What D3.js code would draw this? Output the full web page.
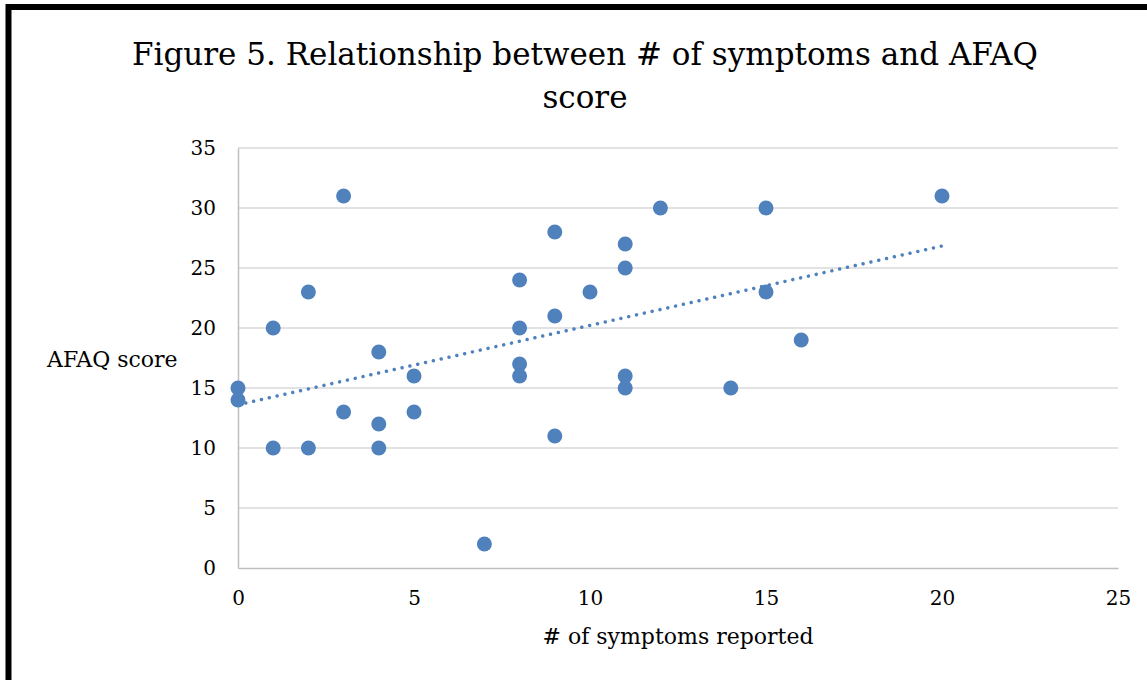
<!DOCTYPE html>
<html>
<head>
<meta charset="utf-8">
<script src="https://d3js.org/d3.v7.min.js"></script>
<style>
  body { margin: 0; background: #fff; }
  svg text { font-family: "DejaVu Serif", serif; fill: #000; }
</style>
</head>
<body>
<script>
// symptoms reported (x) and AFAQ score (y)
var symptoms = [0, 0, 1, 1, 2, 2, 3, 3, 4, 4, 4, 5, 5, 7, 8, 8, 8, 8, 9, 9, 9, 10, 11, 11, 11, 11, 12, 14, 15, 15, 16, 20];
var afaq     = [15, 14, 20, 10, 23, 10, 31, 13, 18, 12, 10, 16, 13, 2, 24, 20, 17, 16, 28, 21, 11, 23, 27, 25, 16, 15, 30, 15, 30, 23, 19, 31];

var xTicks = [0, 5, 10, 15, 20, 25];
var yTicks = [0, 5, 10, 15, 20, 25, 30, 35];

var titleLines = ["Figure 5. Relationship between # of symptoms and AFAQ", "score"];
var xTitle = "# of symptoms reported";
var yTitle = "AFAQ score";

var svgWidth = 1147;
var svgHeight = 680;

var margin = { top: 148, right: 29, bottom: 112, left: 238 };
var chartWidth = svgWidth - margin.left - margin.right;
var chartHeight = svgHeight - margin.top - margin.bottom;

var data = symptoms.map(function(s, i) { return { x: s, y: afaq[i] }; });

var svg = d3.select("body")
  .append("svg")
  .attr("width", svgWidth)
  .attr("height", svgHeight);

// thick frame on the top and left edges
svg.append("path")
  .attr("d", "M8.5,680 L8.5,7 L1147,7")
  .attr("fill", "none")
  .attr("stroke", "#000")
  .attr("stroke-width", 6);

var chartGroup = svg.append("g")
  .attr("transform", "translate(" + margin.left + ", " + margin.top + ")");

var xScale = d3.scaleLinear().domain([0, 25]).range([0, chartWidth]);
var yScale = d3.scaleLinear().domain([0, 35]).range([chartHeight, 0]);

// horizontal gridlines
chartGroup.append("g")
  .selectAll("line")
  .data(yTicks.filter(function(d) { return d > 0; }))
  .enter()
  .append("line")
  .attr("x1", 0)
  .attr("x2", chartWidth)
  .attr("y1", function(d) { return yScale(d); })
  .attr("y2", function(d) { return yScale(d); })
  .attr("stroke", "#d9d9d9")
  .attr("stroke-width", 1.5);

// axes
var leftAxis = d3.axisLeft(yScale).tickValues(yTicks).tickSize(0).tickPadding(22);
var bottomAxis = d3.axisBottom(xScale).tickValues(xTicks).tickSize(0).tickPadding(23);

var yAxisG = chartGroup.append("g").call(leftAxis);
yAxisG.select(".domain").attr("stroke", "#bfbfbf").attr("stroke-width", 1.5);
yAxisG.selectAll("text").style("font-size", "20px").style("font-family", "DejaVu Serif");

var xAxisG = chartGroup.append("g")
  .attr("transform", "translate(0, " + chartHeight + ")")
  .call(bottomAxis);
xAxisG.select(".domain").attr("stroke", "#bfbfbf").attr("stroke-width", 1.5);
xAxisG.selectAll("text").style("font-size", "20px").style("font-family", "DejaVu Serif");

// points
chartGroup.append("g")
  .selectAll("circle")
  .data(data)
  .enter()
  .append("circle")
  .attr("cx", function(d) { return xScale(d.x); })
  .attr("cy", function(d) { return yScale(d.y); })
  .attr("r", 7.5)
  .style("fill", "#4f81bd");

// linear trendline (least squares fit of the points)
var mx = d3.mean(data, function(d) { return d.x; });
var my = d3.mean(data, function(d) { return d.y; });
var sxy = d3.sum(data, function(d) { return (d.x - mx) * (d.y - my); });
var sxx = d3.sum(data, function(d) { return (d.x - mx) * (d.x - mx); });
var slope = sxy / sxx;
var intercept = my - slope * mx;
var xExt = d3.extent(data, function(d) { return d.x; });

chartGroup.append("line")
  .attr("x1", xScale(xExt[0]))
  .attr("y1", yScale(intercept + slope * xExt[0]))
  .attr("x2", xScale(xExt[1]))
  .attr("y2", yScale(intercept + slope * xExt[1]))
  .attr("stroke", "#4f81bd")
  .attr("stroke-width", 3.5)
  .attr("stroke-linecap", "round")
  .attr("stroke-dasharray", "0.01 8");

// title
svg.append("g")
  .selectAll("text")
  .data(titleLines)
  .enter()
  .append("text")
  .attr("x", 585)
  .attr("y", function(d, i) { return 65 + i * 43; })
  .attr("text-anchor", "middle")
  .style("font-size", "31px")
  .text(function(d) { return d; });

// axis titles
svg.append("text")
  .attr("x", margin.left + chartWidth / 2)
  .attr("y", 644)
  .attr("text-anchor", "middle")
  .style("font-size", "22px")
  .text(xTitle);

svg.append("text")
  .attr("x", 47)
  .attr("y", 367)
  .attr("text-anchor", "start")
  .style("font-size", "22px")
  .text(yTitle);
</script>
</body>
</html>
